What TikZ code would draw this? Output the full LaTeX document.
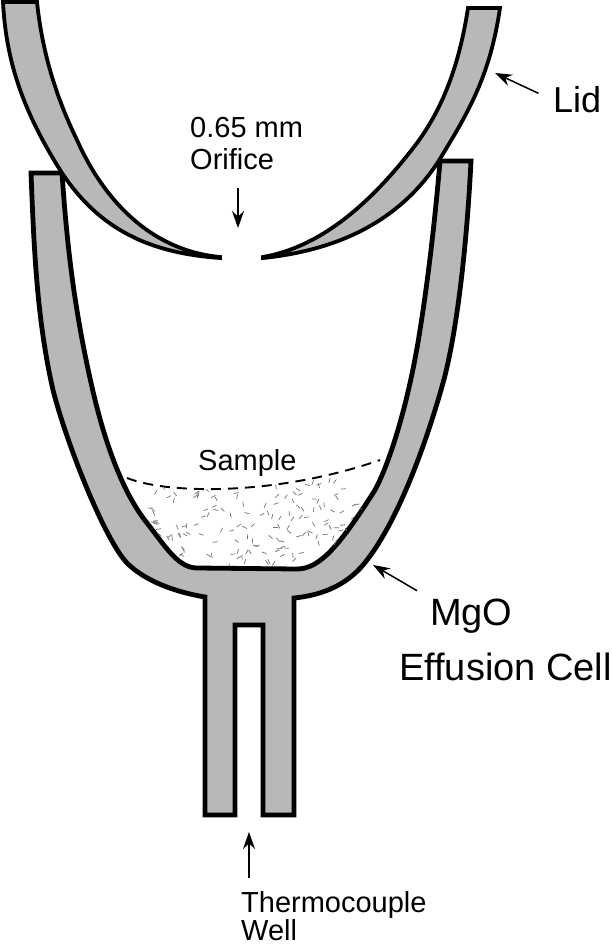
\documentclass[tikz,border=0pt]{standalone}
\usepackage{fontspec}
\setmainfont{Liberation Sans}
\usetikzlibrary{positioning,arrows.meta}
\tikzset{%
  wall/.style={draw=black,fill=black!28,line width=4.8pt,line join=miter,miter limit=3},
  lidwall/.style={draw=black,fill=black!28,line width=3.8pt,line join=miter,miter limit=3},
  big/.style={font=\fontsize{38}{38}\selectfont,inner sep=0pt,anchor=base west},
  small/.style={font=\fontsize{29}{29}\selectfont,inner sep=0pt,anchor=base west},
  ptr/.style={-{Stealth[length=17pt,width=12pt]},line width=1.5pt},
  speck/.style={black!55,line width=.7pt}
}

\begin{document}
\begin{tikzpicture}[x=1pt,y=-1pt]
  \useasboundingbox (0,0) rectangle (612,947);

  % cell body
  \draw[wall] (31,173) .. controls (34,250) and (37,320) .. (53,390)
    .. controls (67,445) and (105,540) .. (127,563)
    .. controls (145,581) and (175,592) .. (205,597)
    -- (205,815) -- (235,815) -- (235,625) -- (263,625) -- (263,815) -- (294,815) -- (294,598)
    .. controls (325,595) and (350,583) .. (367,560)
    .. controls (392,528) and (420,465) .. (443,383)
    .. controls (455,340) and (466,260) .. (471,161)
    -- (440,161)
    .. controls (435,220) and (428,280) .. (420,330)
    .. controls (410,395) and (392,458) .. (375,490)
    .. controls (340,545) and (320,569) .. (297,569)
    -- (197,568)
    .. controls (178,568) and (165,546) .. (147,523)
    .. controls (122,492) and (104,440) .. (92,387)
    .. controls (72,300) and (66,230) .. (62,173)
    -- cycle;

  % sample
  \begin{scope}
    \clip (127,478) .. controls (170,495) and (280,495) .. (380,460)
      -- (375,490) .. controls (340,545) and (320,567) .. (297,567)
      -- (197,566) .. controls (178,566) and (165,546) .. (147,523) -- cycle;
    \pgfmathsetseed{4217}
    \foreach \i in {1,...,190} {
      \pgfmathsetmacro{\px}{125+255*rnd}
      \pgfmathsetmacro{\py}{478+88*rnd}
      \pgfmathsetmacro{\ang}{360*rnd}
      \draw[speck] (\px,\py) -- ++(\ang:5);
    }
  \end{scope}
  \draw[line width=1.9pt,dash pattern=on 10pt off 7pt] (127,478) .. controls (170,495) and (280,495) .. (380,460);

  % lid
  \draw[lidwall] (3,2) .. controls (6,60) and (22,110) .. (62,173)
    .. controls (100,230) and (150,253) .. (220,258)
    -- (220,257) .. controls (145,250) and (100,192) .. (77,140)
    .. controls (55,95) and (42,50) .. (37,2) -- cycle;
  \draw[lidwall] (500,8) .. controls (490,75) and (470,110) .. (438,162)
    .. controls (400,220) and (340,250) .. (263,258)
    -- (263,257) .. controls (320,247) and (370,205) .. (417,143)
    .. controls (445,105) and (460,60) .. (468,8) -- cycle;

  % labels
  \node[big,font=\fontsize{36}{36}\selectfont] (lid) at (553,113) {Lid};
  \node[big] (mgo) at (430,625) {MgO};
  \node[big] (cell) at (399,680) {Effusion Cell};
  \node[small] (dia) at (190,137) {0.65 mm};
  \node[small,below=11pt of dia.south west,anchor=north west] (orifice) {Orifice};
  \node[small] (sample) at (198,470) {Sample};
  \node[small] (thermo) at (241,912) {Thermocouple};
  \node[small] (well) at (241,940.5) {Well};

  % pointers
  \coordinate (lidtip) at (495,73);
  \coordinate (mgotip) at (373,565);
  \coordinate (holetip) at (238,228);
  \coordinate (welltip) at (249,832);
  \draw[ptr,shorten <=16pt] (lid.west) -- (lidtip);
  \draw[ptr,shorten <=15pt] (mgo.north west) -- (mgotip);
  \draw[ptr,shorten <=18pt] (orifice.south -| holetip) -- (holetip);
  \draw[ptr,shorten <=13pt] (thermo.north -| welltip) -- (welltip);
\end{tikzpicture}
\end{document}
